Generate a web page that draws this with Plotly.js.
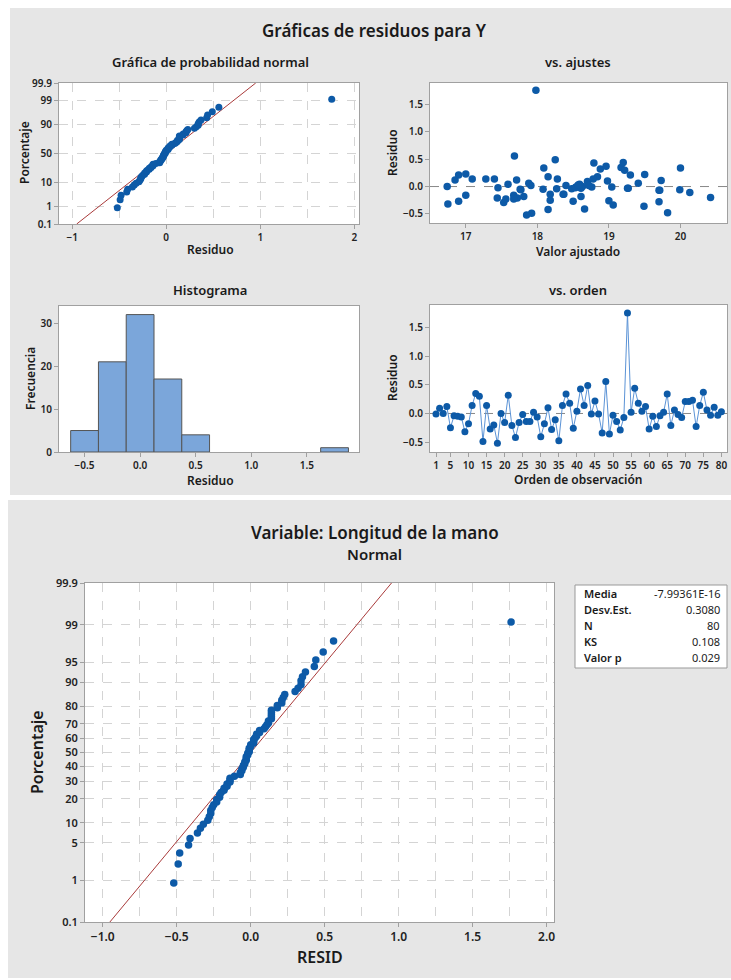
<!DOCTYPE html>
<html><head><meta charset="utf-8">
<script src="https://cdn.plot.ly/plotly-3.0.1.min.js"></script>
<style>html,body{margin:0;padding:0;background:#fff}#chart{width:731px;height:980px}</style>
</head><body><div id="chart"></div>
<script>
// ---- data ----
const residuals = [
 -0.01, 0.09, 0.00, 0.12,-0.25,-0.04,-0.05,-0.06,-0.32,-0.18,
  0.14, 0.35, 0.30,-0.49, 0.14,-0.27,-0.20,-0.52, 0.00,-0.16,
  0.32,-0.21,-0.42,-0.16,-0.02,-0.14,-0.14, 0.02,-0.06,-0.41,
 -0.18, 0.10,-0.28,-0.11,-0.48, 0.14, 0.34, 0.18,-0.26, 0.04,
  0.43, 0.14, 0.49,-0.01, 0.22,-0.01,-0.34, 0.56,-0.36,-0.03,
 -0.14,-0.29,-0.07, 1.76, 0.02, 0.44, 0.18, 0.04, 0.12,-0.27,
 -0.05,-0.23,-0.04, 0.02, 0.34,-0.21, 0.06,-0.02,-0.07, 0.21,
  0.21, 0.23,-0.23, 0.14, 0.37, 0.06,-0.03, 0.11,-0.03, 0.03];
const fittedValues = [
 18.76,18.70,16.74,16.85,18.18,18.27,17.76,19.99,16.75,17.81,
 17.09,19.17,19.22,17.92,17.28,16.90,20.42,17.85,18.63,17.00,
 18.88,17.44,18.15,17.67,17.45,18.18,18.36,18.72,17.77,18.66,
 18.61,18.98,19.70,20.13,19.82,17.40,20.00,18.15,19.00,17.59,
 18.79,18.28,18.25,19.04,19.50,18.54,19.06,17.68,19.49,18.61,
 18.37,17.53,19.70,17.98,17.91,19.20,18.84,18.59,17.71,18.50,
 18.08,17.56,18.48,18.40,18.09,17.72,19.41,18.53,19.71,16.90,
 19.30,17.00,17.67,18.78,18.96,17.88,19.26,19.73,19.27,18.57];
const orderTicks = [1,5,10,15,20,25,30,35,40,45,50,55,60,65,70,75,80];
const probTicksTop = [0.1,1,10,50,90,99,99.9];
const probTicksBottom = [0.1,1,5,10,20,30,40,50,60,70,80,90,95,99,99.9];
const statNames = ['Media','Desv.Est.','N','KS','Valor p'];
const statValues = ['-7.99361E-16','0.3080','80','0.108','0.029'];
const fitMean = -7.99361e-16;
const fitStd = 0.3080;

// ---- helpers ----
function normInv(p){
 const a=[-3.969683028665376e+01,2.209460984245205e+02,-2.759285104469687e+02,1.383577518672690e+02,-3.066479806614716e+01,2.506628277459239e+00];
 const b=[-5.447609879822406e+01,1.615858368580409e+02,-1.556989798598866e+02,6.680131188771972e+01,-1.328068155288572e+01];
 const c=[-7.784894002430293e-03,-3.223964580411365e-01,-2.400758277161838e+00,-2.549732539343734e+00,4.374664141464968e+00,2.938163982698783e+00];
 const d=[7.784695709041462e-03,3.224671290700398e-01,2.445134137142996e+00,3.754408661907416e+00];
 const pl=0.02425, ph=1-pl; let q,r;
 if(p<pl){q=Math.sqrt(-2*Math.log(p));return (((((c[0]*q+c[1])*q+c[2])*q+c[3])*q+c[4])*q+c[5])/((((d[0]*q+d[1])*q+d[2])*q+d[3])*q+1);}
 if(p<=ph){q=p-0.5;r=q*q;return (((((a[0]*r+a[1])*r+a[2])*r+a[3])*r+a[4])*r+a[5])*q/(((((b[0]*r+b[1])*r+b[2])*r+b[3])*r+b[4])*r+1);}
 q=Math.sqrt(-2*Math.log(1-p));return -(((((c[0]*q+c[1])*q+c[2])*q+c[3])*q+c[4])*q+c[5])/((((d[0]*q+d[1])*q+d[2])*q+d[3])*q+1);
}
const n = residuals.length;
const order = residuals.map((_,i)=>i+1);
const sorted = residuals.slice().sort((a,b)=>a-b);
const zScores = sorted.map((_,i)=>normInv((i+1-0.3)/(n+0.4)));
const zLo = normInv(0.001), zHi = normInv(0.999);
const lineZ = [zLo, zHi];
const lineX = lineZ.map(z=>fitMean+fitStd*z);

// ---- style ----
const W=731,H=980;
const FONT='Noto Sans, Open Sans, sans-serif';
const BLUE='#0d5aa7', GRAY='#a0a0a0', GRID='#d4d4d4', RED='#a93a3a';
const px=(x)=>x/W, py=(y)=>1-y/H;
function baseAxis(extra){
 return Object.assign({showline:true,mirror:true,linecolor:GRAY,linewidth:1,ticks:'outside',ticklen:4,
  tickcolor:GRAY,tickfont:{family:FONT,size:10,color:'#222',weight:600},zeroline:false,showgrid:false,automargin:false,fixedrange:true},extra);
}

const traces = [
 {type:'scatter',mode:'lines',x:lineX,y:lineZ,xaxis:'x',yaxis:'y',line:{color:RED,width:1},hoverinfo:'skip'},
 {type:'scatter',mode:'markers',x:sorted,y:zScores,xaxis:'x',yaxis:'y',marker:{color:BLUE,size:7}},
 {type:'scatter',mode:'markers',x:fittedValues,y:residuals,xaxis:'x2',yaxis:'y2',marker:{color:BLUE,size:7.5}},
 {type:'histogram',x:residuals,xaxis:'x3',yaxis:'y3',xbins:{start:-0.625,end:1.875,size:0.25},
  marker:{color:'#7ba6da',line:{color:'#555',width:1}}},
 {type:'scatter',mode:'lines+markers',x:order,y:residuals,xaxis:'x4',yaxis:'y4',
  line:{color:'#5b93d6',width:1},marker:{color:BLUE,size:7}},
 {type:'scatter',mode:'lines',x:lineX,y:lineZ,xaxis:'x5',yaxis:'y5',line:{color:RED,width:1},hoverinfo:'skip'},
 {type:'scatter',mode:'markers',x:sorted,y:zScores,xaxis:'x5',yaxis:'y5',marker:{color:BLUE,size:7.5}}
];

const dashGrid={showgrid:true,gridcolor:GRID,griddash:'dash',gridwidth:1};
const layout = {
 width:W,height:H,margin:{l:0,r:0,t:0,b:0},showlegend:false,
 paper_bgcolor:'#e6e6e6',plot_bgcolor:'#ffffff',bargap:0,
 font:{family:FONT,color:'#222'},
 xaxis: baseAxis(Object.assign({domain:[px(59),px(359)],range:[-1.14,2.05],tickmode:'linear',tick0:0,dtick:1,anchor:'y',
   minor:{dtick:0.5,tick0:0,showgrid:true,gridcolor:GRID,griddash:'dash',ticks:''}},dashGrid)),
 yaxis: baseAxis(Object.assign({domain:[py(224),py(83)],range:[zLo,zHi],tickmode:'array',
   tickvals:probTicksTop.map(p=>normInv(p/100)),ticktext:probTicksTop.map(String),anchor:'x'},dashGrid)),
 xaxis2: baseAxis({domain:[px(430),px(727)],range:[16.5,20.65],dtick:1,anchor:'y2'}),
 yaxis2: baseAxis({domain:[py(223),py(83)],range:[-0.667,1.894],dtick:0.5,tickformat:'.1f',anchor:'x2'}),
 xaxis3: baseAxis({domain:[px(59),px(359)],range:[-0.73,1.97],dtick:0.5,tick0:0,tickformat:'.1f',anchor:'y3'}),
 yaxis3: baseAxis({domain:[py(452),py(306)],range:[0,34],dtick:10,anchor:'x3'}),
 xaxis4: baseAxis({domain:[px(430),px(727)],range:[-0.66,81.55],tickmode:'array',tickvals:orderTicks,anchor:'y4'}),
 yaxis4: baseAxis({domain:[py(452),py(305)],range:[-0.675,1.9],dtick:0.5,tickformat:'.1f',anchor:'x4'}),
 xaxis5: baseAxis(Object.assign({domain:[px(85),px(554)],range:[-1.12,2.05],tickmode:'linear',tick0:0,dtick:0.5,tickformat:'.1f',anchor:'y5',
   tickfont:{family:FONT,size:12,color:'#222',weight:600},
   minor:{dtick:0.25,tick0:0,showgrid:true,gridcolor:GRID,griddash:'dash',ticks:''}},dashGrid)),
 yaxis5: baseAxis(Object.assign({domain:[py(922),py(583)],range:[zLo,zHi],tickmode:'array',
   tickvals:probTicksBottom.map(p=>normInv(p/100)),ticktext:probTicksBottom.map(String),anchor:'x5',
   tickfont:{family:FONT,size:11,color:'#222',weight:600}},dashGrid)),
 shapes:[
  {type:'rect',xref:'paper',yref:'paper',x0:0,x1:px(10),y0:py(495),y1:1,fillcolor:'#fff',line:{width:0},layer:'below'},
  {type:'rect',xref:'paper',yref:'paper',x0:0,x1:1,y0:py(8),y1:1,fillcolor:'#fff',line:{width:0},layer:'below'},
  {type:'rect',xref:'paper',yref:'paper',x0:0,x1:1,y0:py(500),y1:py(495),fillcolor:'#fff',line:{width:0},layer:'below'},
  {type:'rect',xref:'paper',yref:'paper',x0:0,x1:px(8),y0:0,y1:py(500),fillcolor:'#fff',line:{width:0},layer:'below'},
  {type:'rect',xref:'paper',yref:'paper',x0:0,x1:1,y0:0,y1:py(978),fillcolor:'#fff',line:{width:0},layer:'below'},
  {type:'line',xref:'x2 domain',yref:'y2',x0:0,x1:1,y0:0,y1:0,line:{color:'#888',width:1,dash:'dash'},layer:'below'},
  {type:'line',xref:'x4 domain',yref:'y4',x0:0,x1:1,y0:0,y1:0,line:{color:'#888',width:1,dash:'dash'},layer:'below'},
  {type:'rect',xref:'paper',yref:'paper',x0:px(575),x1:px(727),y0:py(668),y1:py(585),fillcolor:'#fff',line:{color:'#999',width:1}}
 ],
 annotations:[]
};
function ann(text,x,y,size,opts){
 layout.annotations.push(Object.assign({text:text,xref:'paper',yref:'paper',x:px(x),y:py(y),xanchor:'center',yanchor:'middle',
  showarrow:false,font:{family:FONT,size:size,color:'#1a1a1a',weight:600}},opts||{}));
}
ann('Gráficas de residuos para Y',375,30,17);
ann('Gráfica de probabilidad normal',210,62,13);
ann('vs. ajustes',578,62,13);
ann('Histograma',210,290,13);
ann('vs. orden',578,290,13);
ann('Residuo',210,249,12);
ann('Valor ajustado',578,251,12);
ann('Residuo',210,480,12);
ann('Orden de observación',578,479,12);
ann('Porcentaje',25,153,12,{textangle:-90});
ann('Residuo',393,153,12,{textangle:-90});
ann('Frecuencia',30,379,12,{textangle:-90});
ann('Residuo',393,378,12,{textangle:-90});
ann('Variable: Longitud de la mano',375,532,17);
ann('Normal',375,554,15);
ann('Porcentaje',37,752,16,{textangle:-90});
ann('RESID',320,957,16);
statNames.forEach((s,i)=>{
 const y=593+i*16.2;
 ann(s,582,y,11,{xanchor:'left',font:{family:FONT,size:11,color:'#1a1a1a',weight:600}});
 ann(statValues[i],722,y,11,{xanchor:'right',font:{family:FONT,size:11,color:'#1a1a1a',weight:400}});
});

Plotly.newPlot('chart',traces,layout,{displayModeBar:false,staticPlot:true});
</script></body></html>
